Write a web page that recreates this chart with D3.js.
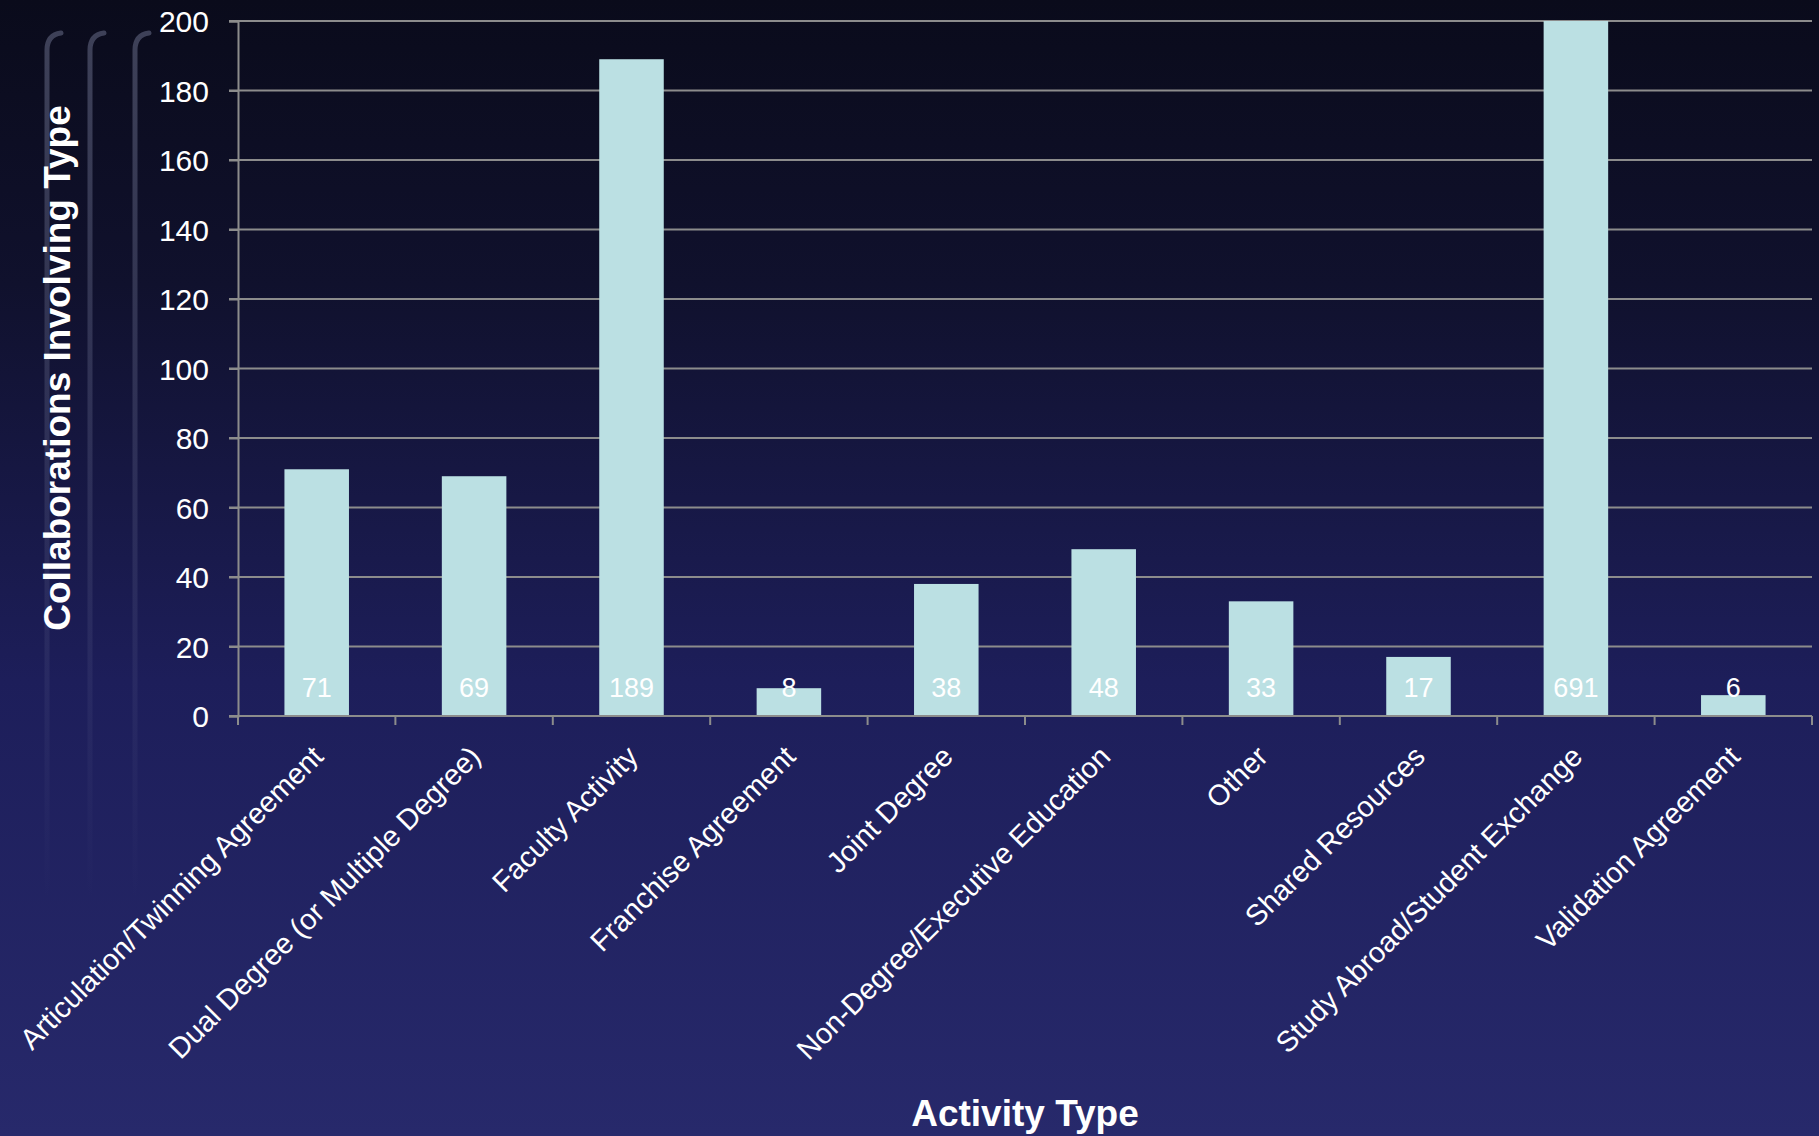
<!DOCTYPE html>
<html>
<head>
<meta charset="utf-8">
<script src="https://cdn.jsdelivr.net/npm/d3@7"></script>
<style>
  html, body { margin: 0; padding: 0; background: #0b0c1f; overflow: hidden; }
  text { font-family: "Liberation Sans", Arial, sans-serif; fill: #fff; }
</style>
</head>
<body>
<svg id="chart"></svg>
<script>
// data
let categories = ["Articulation/Twinning Agreement", "Dual Degree (or Multiple Degree)",
    "Faculty Activity", "Franchise Agreement", "Joint Degree", "Non-Degree/Executive Education",
    "Other", "Shared Resources", "Study Abroad/Student Exchange", "Validation Agreement"];
let values = [71, 69, 189, 8, 38, 48, 33, 17, 691, 6];
let yTicks = [0, 20, 40, 60, 80, 100, 120, 140, 160, 180, 200];
let yMax = 200;

let W = 1819, H = 1136,
    margin = {top: 21, right: 7, bottom: 420, left: 238},
    width = W - margin.left - margin.right,
    height = H - margin.top - margin.bottom;

let svg = d3.select("#chart").attr("width", W).attr("height", H);

// background gradient
let defs = svg.append("defs");
let grad = defs.append("linearGradient").attr("id", "bg")
    .attr("x1", 0).attr("y1", 0).attr("x2", 0).attr("y2", 1);
grad.append("stop").attr("offset", "0%").attr("stop-color", "#0a0b1b");
grad.append("stop").attr("offset", "25%").attr("stop-color", "#10112d");
grad.append("stop").attr("offset", "60%").attr("stop-color", "#1d1e5a");
grad.append("stop").attr("offset", "100%").attr("stop-color", "#27296b");
svg.append("rect").attr("width", W).attr("height", H).attr("fill", "url(#bg)");

// faint decorative hooks on the left
let fade = defs.append("linearGradient").attr("id", "hook")
    .attr("x1", 0).attr("y1", 0).attr("x2", 0).attr("y2", 1);
fade.append("stop").attr("offset", "0%").attr("stop-color", "#8a90b0").attr("stop-opacity", 0.8);
fade.append("stop").attr("offset", "100%").attr("stop-color", "#8a90b0").attr("stop-opacity", 0);
[47, 90, 135].forEach(x => {
    svg.append("path")
        .attr("d", `M${x},900 L${x},50 Q${x},35 ${x + 14},33`)
        .attr("fill", "none")
        .attr("stroke", "url(#hook)")
        .attr("stroke-width", 5)
        .attr("stroke-linecap", "round")
        .attr("opacity", 0.5);
});

let g = svg.append("g").attr("transform", "translate(" + margin.left + "," + margin.top + ")");

let x = d3.scaleBand().domain(categories).range([0, width]).paddingInner(0).paddingOuter(0);
let y = d3.scaleLinear().domain([0, yMax]).range([height, 0]);

// gridlines
g.selectAll(".grid").data(yTicks.filter(d => d > 0)).enter().append("line")
    .attr("x1", -9).attr("x2", width)
    .attr("y1", d => y(d)).attr("y2", d => y(d))
    .attr("stroke", "#8c8c8c").attr("stroke-width", 2);

// bars (clipped at axis max)
let barW = x.bandwidth() * 0.41;
g.selectAll(".bar").data(values).enter().append("rect")
    .attr("x", (d, i) => x(categories[i]) + (x.bandwidth() - barW) / 2)
    .attr("y", d => y(Math.min(d, yMax)))
    .attr("width", barW)
    .attr("height", d => height - y(Math.min(d, yMax)))
    .attr("fill", "#bbe0e3");

// value labels
g.selectAll(".val").data(values).enter().append("text")
    .attr("x", (d, i) => x(categories[i]) + x.bandwidth() / 2)
    .attr("y", height - 19)
    .attr("text-anchor", "middle")
    .style("font-size", "27px")
    .text(d => d);

// y axis
let yAxis = g.append("g").call(d3.axisLeft(y).tickValues(yTicks).tickSize(9).tickPadding(20));
yAxis.select(".domain").attr("stroke", "#8c8c8c").attr("stroke-width", 2);
yAxis.selectAll(".tick line").attr("stroke", "#8c8c8c").attr("stroke-width", 2);
yAxis.selectAll(".tick text").style("font-size", "30px").attr("fill", "#fff").attr("dy", "0.36em");

// x axis
let xTickPos = d3.range(categories.length + 1).map(i => i * x.bandwidth());
let xa = g.append("g").attr("transform", "translate(0," + height + ")");
xa.append("line").attr("x1", -9).attr("x2", width).attr("y1", 0).attr("y2", 0)
    .attr("stroke", "#8c8c8c").attr("stroke-width", 2);
xa.selectAll(".xt").data(xTickPos).enter().append("line")
    .attr("x1", d => d).attr("x2", d => d).attr("y1", 0).attr("y2", 9)
    .attr("stroke", "#8c8c8c").attr("stroke-width", 2);

xa.selectAll(".xl").data(categories).enter().append("text")
    .attr("transform", d => "translate(" + (x(d) + x.bandwidth() / 2 - 6) + ",28) rotate(-45)")
    .attr("text-anchor", "end")
    .attr("dy", "0.7em")
    .style("font-size", "29px")
    .text(d => d);

// axis titles
svg.append("text")
    .attr("transform", "translate(70,368) rotate(-90)")
    .attr("text-anchor", "middle")
    .style("font-size", "37px").style("font-weight", "bold")
    .text("Collaborations Involving Type");

svg.append("text")
    .attr("x", 1025).attr("y", 1126)
    .attr("text-anchor", "middle")
    .style("font-size", "37px").style("font-weight", "bold")
    .text("Activity Type");
</script>
</body>
</html>
